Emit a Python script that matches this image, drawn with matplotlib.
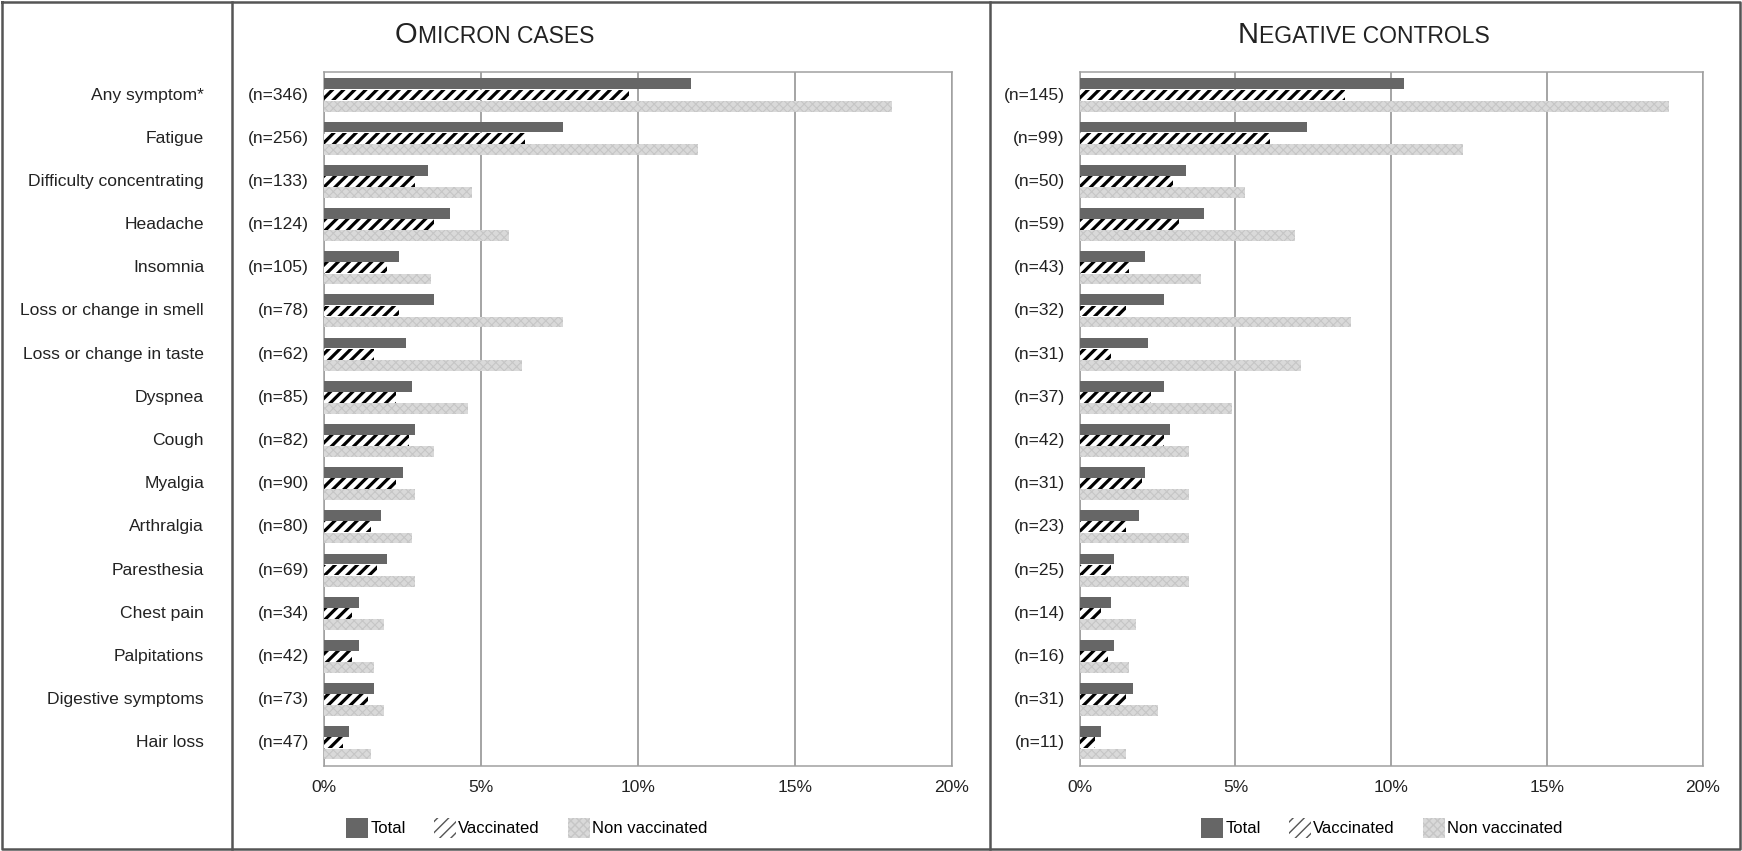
import matplotlib
matplotlib.use("Agg")
import matplotlib.pyplot as plt
import matplotlib.transforms as mtrans
from matplotlib.patches import Patch
import numpy as np

plt.rcParams['font.family'] = ['Liberation Sans', 'DejaVu Sans']

categories = ["Any symptom*", "Fatigue", "Difficulty concentrating", "Headache",
              "Insomnia", "Loss or change in smell", "Loss or change in taste",
              "Dyspnea", "Cough", "Myalgia", "Arthralgia", "Paresthesia",
              "Chest pain", "Palpitations", "Digestive symptoms", "Hair loss"]

omicron_n = [346, 256, 133, 124, 105, 78, 62, 85, 82, 90, 80, 69, 34, 42, 73, 47]
omicron_total = [11.7, 7.6, 3.3, 4.0, 2.4, 3.5, 2.6, 2.8, 2.9, 2.5, 1.8, 2.0, 1.1, 1.1, 1.6, 0.8]
omicron_vacc = [9.7, 6.4, 2.9, 3.5, 2.0, 2.4, 1.6, 2.3, 2.7, 2.3, 1.5, 1.7, 0.9, 0.9, 1.4, 0.6]
omicron_nonvacc = [18.1, 11.9, 4.7, 5.9, 3.4, 7.6, 6.3, 4.6, 3.5, 2.9, 2.8, 2.9, 1.9, 1.6, 1.9, 1.5]

control_n = [145, 99, 50, 59, 43, 32, 31, 37, 42, 31, 23, 25, 14, 16, 31, 11]
control_total = [10.4, 7.3, 3.4, 4.0, 2.1, 2.7, 2.2, 2.7, 2.9, 2.1, 1.9, 1.1, 1.0, 1.1, 1.7, 0.7]
control_vacc = [8.5, 6.1, 3.0, 3.2, 1.6, 1.5, 1.0, 2.3, 2.7, 2.0, 1.5, 1.0, 0.7, 0.9, 1.5, 0.5]
control_nonvacc = [18.9, 12.3, 5.3, 6.9, 3.9, 8.7, 7.1, 4.9, 3.5, 3.5, 3.5, 3.5, 1.8, 1.6, 2.5, 1.5]

xticks = [0, 5, 10, 15, 20]
series_names = ["Total", "Vaccinated", "Non vaccinated"]

W, H = 1742, 851
fig = plt.figure(figsize=(W / 100, H / 100), dpi=100)

def fx(px):
    return px / W

def fy(py):
    return 1 - py / H

FS = 12.6
TOTAL_C = '#666666'
NV_FACE = '#d9d9d9'
NV_HATCH = '#c6c6c6'
GRID_C = '#8c8c8c'
FRAME_C = '#555555'

# outer frame and separators
frame_kw = dict(color=FRAME_C, lw=1.8, transform=fig.transFigure)
fig.add_artist(plt.Line2D([fx(2), fx(1740), fx(1740), fx(2), fx(2)],
                          [fy(2), fy(2), fy(849), fy(849), fy(2)], **frame_kw))
fig.add_artist(plt.Line2D([fx(232), fx(232)], [fy(2), fy(849)], **frame_kw))
fig.add_artist(plt.Line2D([fx(990), fx(990)], [fy(2), fy(849)], **frame_kw))

ax_top, ax_bot = 71.7, 765.7
panels = [
    dict(x0=324, x1=952, n=omicron_n, vals=(omicron_total, omicron_vacc, omicron_nonvacc),
         big="O", small="MICRON CASES", tx=395, nx=309, labels=True, legx=346),
    dict(x0=1079.6, x1=1703, n=control_n, vals=(control_total, control_vacc, control_nonvacc),
         big="N", small="EGATIVE CONTROLS", tx=1237.5, nx=1065, labels=False, legx=1201),
]

y = np.arange(len(categories))
bh = 0.25
off = 0.258

renderer = fig.canvas.get_renderer()

for p in panels:
    ax = fig.add_axes([fx(p['x0']), fy(ax_bot), fx(p['x1'] - p['x0']), (ax_bot - ax_top) / H])
    tot, vac, nv = p['vals']
    ax.barh(y - off, tot, height=bh, color=TOTAL_C, lw=0, zorder=3)
    with plt.rc_context({'hatch.linewidth': 2.3}):
        ax.barh(y, vac, height=bh, facecolor='white', edgecolor='black', hatch='///', lw=0, zorder=3)
    with plt.rc_context({'hatch.linewidth': 0.8}):
        ax.barh(y + off, nv, height=bh, facecolor=NV_FACE, edgecolor=NV_HATCH, hatch='xxxx', lw=0, zorder=3)
    ax.set_xlim(0, 20)
    ax.set_ylim(len(categories) - 0.47, -0.54)
    ax.set_xticks(xticks)
    ax.set_xticklabels([f"{t}%" for t in xticks], fontsize=FS, color='#222222')
    ax.set_yticks([])
    ax.tick_params(axis='x', length=0, pad=10)
    ax.grid(axis='x', color=GRID_C, lw=1.1, zorder=1)
    for s in ax.spines.values():
        s.set_color('#a0a0a0')
        s.set_linewidth(1.1)

    tr = mtrans.blended_transform_factory(fig.transFigure, ax.transData)
    for i, n in enumerate(p['n']):
        ax.text(fx(p['nx']), i, f"(n={n})", transform=tr, ha='right', va='center',
                fontsize=FS, color='#222222', clip_on=False)
        if p['labels']:
            ax.text(fx(204), i, categories[i], transform=tr, ha='right', va='center',
                    fontsize=FS, color='#222222', clip_on=False)

    # small-caps title
    t1 = fig.text(fx(p['tx']), fy(43), p['big'], fontsize=21, ha='left', va='baseline', color='#222222')
    bb = t1.get_window_extent(renderer=renderer)
    fig.text(bb.x1 / W, fy(43), p['small'], fontsize=16.5, ha='left', va='baseline', color='#222222')

    with plt.rc_context({'hatch.linewidth': 1.5}):
        h_vac = Patch(facecolor='white', edgecolor='#555555', hatch='///', lw=0)
    with plt.rc_context({'hatch.linewidth': 0.8}):
        h_nv = Patch(facecolor=NV_FACE, edgecolor=NV_HATCH, hatch='xxxx', lw=0)
    handles = [Patch(facecolor=TOTAL_C, lw=0), h_vac, h_nv]
    fig.legend(handles, series_names, loc='center left', bbox_to_anchor=(fx(p['legx']), fy(828)),
               ncol=3, frameon=False, fontsize=12, handlelength=1.3, handleheight=1.55,
               handletextpad=0.15, columnspacing=1.7, borderpad=0, borderaxespad=0)

fig.savefig("out.png", dpi=100)
